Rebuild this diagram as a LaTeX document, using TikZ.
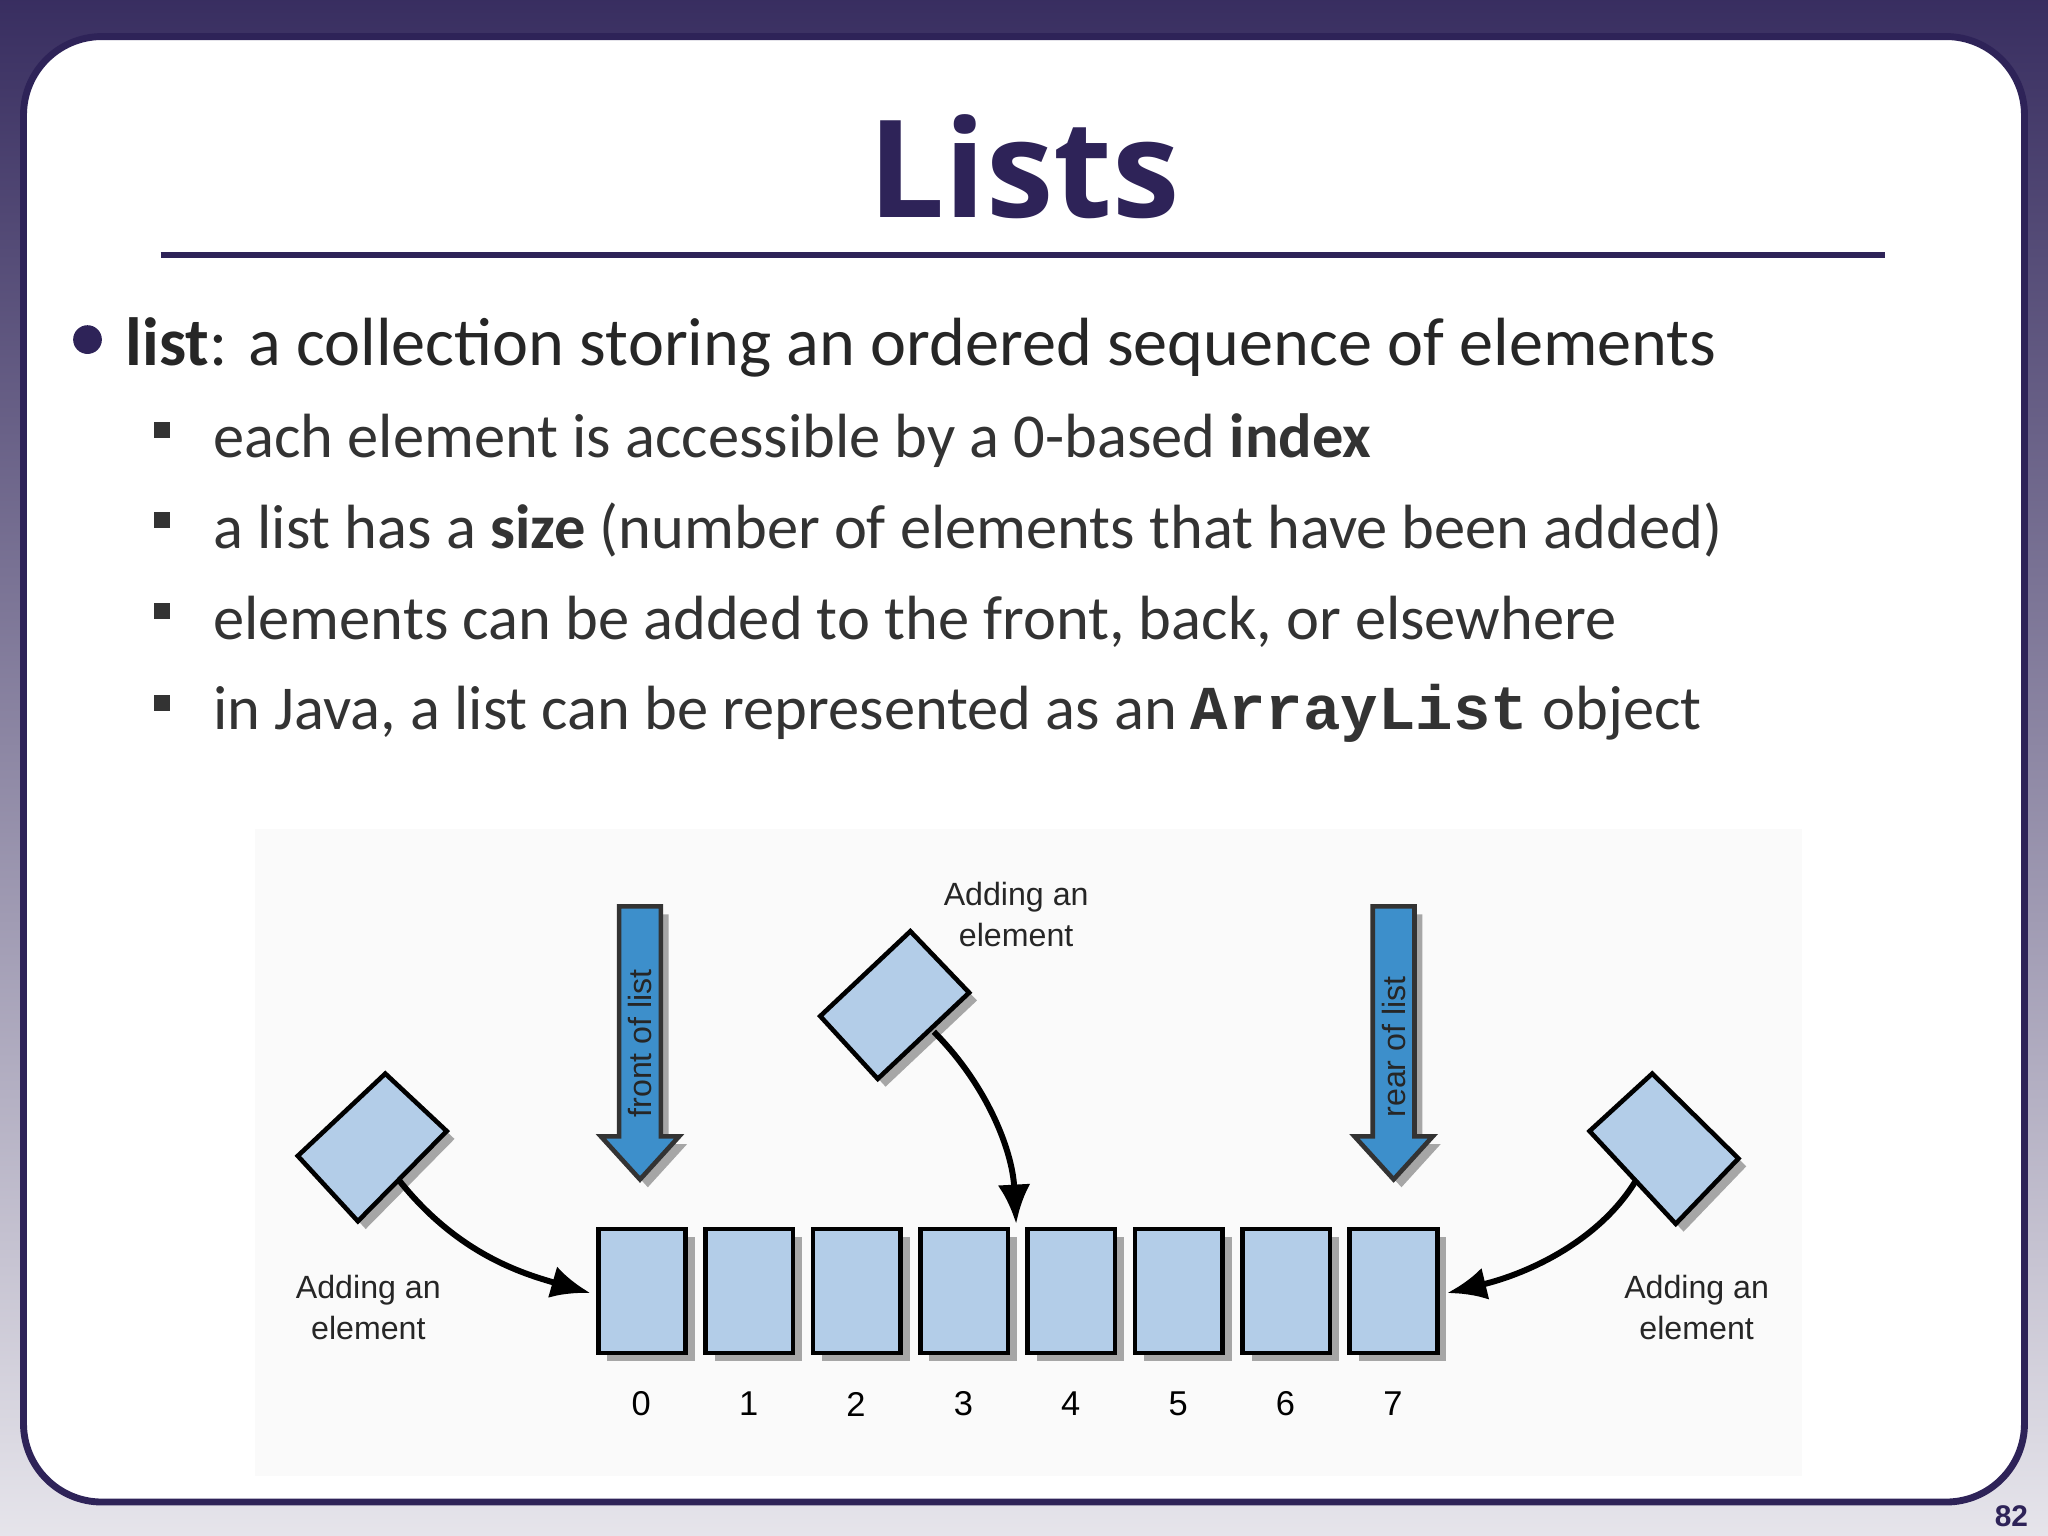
\documentclass[tikz,border=0pt]{standalone}
\usepackage{fontspec}
\usetikzlibrary{arrows.meta}
\setmainfont{Carlito}
\newfontfamily\titlefont{Open Sans}
\newfontfamily\arialf{Liberation Sans}
\newfontfamily\courf{Liberation Mono}
\definecolor{dpurple}{HTML}{2E2358}
\definecolor{boxblue}{HTML}{B3CDE8}
\definecolor{arrblue}{HTML}{3D8FCB}
\definecolor{txt}{HTML}{333333}
\begin{document}
\begin{tikzpicture}[x=0.01cm,y=-0.01cm,
  cell/.style={fill=boxblue,draw=black,line width=1pt},
  shad/.style={fill=black!35},
  lab/.style={font=\arialf\fontsize{7}{9}\selectfont,align=center,text=black!85},
  sub/.style={anchor=west,font=\fontsize{13.6}{15}\selectfont,text=txt},
  sq/.style={fill=txt,minimum size=0.12cm,inner sep=0pt},
  curv/.style={-{Latex[length=0.3cm,width=0.25cm]},line width=1.3pt}]
\useasboundingbox (0,0) rectangle (1568,1176);
\shade[top color=dpurple!95, bottom color=dpurple!12] (0,0) rectangle (1568,1176);
\fill[white,draw=dpurple,line width=1.5pt,rounded corners=0.6cm] (18,28) rectangle (1550,1150);
\node[font=\titlefont\bfseries\fontsize{29.5}{34}\selectfont,text=dpurple] (title) at (784,128) {Lists};
\draw[dpurple,line width=1.3pt] (123,195) -- (1443,195);
\fill[dpurple] (67,260) circle (11);
\node[anchor=west,font=\fontsize{14.85}{17}\selectfont,text=black!85] (b1) at (84,266) {\textbf{list}: a collection storing an ordered sequence of elements};
\foreach \y/\t [count=\i] in {337/{each element is accessible by a 0-based \textbf{index}},
  406/{a list has a \textbf{size} (number of elements that have been added)},
  476/{elements can be added to the front, back, or elsewhere},
  546/{in Java, a list can be represented as an {\courf\bfseries ArrayList} object}}{
  \node[sq] (s\i) at (124,\y-8) {};
  \node[sub] (t\i) at (151,\y) {\t};
}
\fill[black!2] (195,635) rectangle (1380,1130);
\foreach \i in {0,...,7}{
  \pgfmathsetmacro\xl{458+82.2*\i}
  \fill[shad] (\xl+7,947) rectangle (\xl+74,1042);
  \draw[cell] (\xl,941) rectangle (\xl+67,1036);
  \node[font=\arialf\fontsize{7.5}{9}\selectfont] (n\i) at (\xl+33,1075) {\i};
}
\fill[shad] (234,891) -- (301,828) -- (348,872) -- (280,941) -- cycle;
\draw[cell] (228,885) -- (295,822) -- (342,866) -- (274,935) -- cycle;
\fill[shad] (634,784) -- (703,719) -- (748,766) -- (678,832) -- cycle;
\draw[cell] (628,778) -- (697,713) -- (742,760) -- (672,826) -- cycle;
\fill[shad] (1223,872) -- (1271,828) -- (1337,893) -- (1289,943) -- cycle;
\draw[cell] (1217,866) -- (1265,822) -- (1331,887) -- (1283,937) -- cycle;
\coordinate (l1) at (305,903);
\coordinate (l2) at (452,990);
\coordinate (m1) at (715,790);
\coordinate (m2) at (778,937);
\coordinate (r1) at (1253,903);
\coordinate (r2) at (1108,990);
\draw[curv] (l1) .. controls (350,960) and (400,975) .. (l2);
\draw[curv] (m1) .. controls (755,830) and (775,880) .. (m2);
\draw[curv] (r1) .. controls (1225,950) and (1170,975) .. (r2);
\foreach \x/\t/\nm in {490/front of list/fa, 1067/rear of list/ra}{
  \fill[shad] (\x-16+6,700) -- (\x+16+6,700) -- (\x+16+6,876) -- (\x+30+6,876) -- (\x+6,909) -- (\x-30+6,876) -- (\x-16+6,876) -- cycle;
  \draw[fill=arrblue,draw=black!80,line width=1pt] (\x-16,694) -- (\x+16,694) -- (\x+16,870) -- (\x+30,870) -- (\x,903) -- (\x-30,870) -- (\x-16,870) -- cycle;
  \node[rotate=90,anchor=west,lab] (\nm) at (\x,868) {\t};
}
\node[lab] (la) at (282,1001) {Adding an\\element};
\node[lab] (ma) at (778,700) {Adding an\\element};
\node[lab] (ra) at (1299,1001) {Adding an\\element};
\node[font=\arialf\bfseries\fontsize{6.5}{8}\selectfont,text=dpurple] (pg) at (1540,1161) {82};
\end{tikzpicture}
\end{document}
